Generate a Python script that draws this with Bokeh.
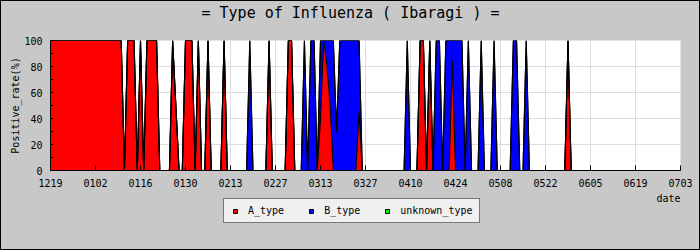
from bokeh.plotting import figure
from bokeh.layouts import column
from bokeh.models import (ColumnDataSource, Range1d, FixedTicker, SingleIntervalTicker,
                          Legend, LegendItem, Label)
from bokeh.embed import file_html
from bokeh.resources import INLINE

# x-axis tick labels (every 14 days, 1219 .. 0703)
tick_labels = ["1219", "0102", "0116", "0130", "0213", "0227", "0313", "0327",
               "0410", "0424", "0508", "0522", "0605", "0619", "0703"]

# daily positive rate (%) by type, day 0 = 1219
A_type = [
    100, 100, 100, 100, 100, 100, 100, 100, 100, 100, 100, 100, 100, 100,
    100, 100, 100, 100, 100, 100, 100, 100, 100, 0, 100, 100, 100, 0,
    100, 0, 100, 100, 100, 100, 0, 0, 0, 0, 100, 50, 0, 0,
    100, 100, 100, 0, 100, 0, 0, 100, 0, 0, 0, 0, 100, 0,
    0, 0, 0, 0, 0, 0, 0, 0, 0, 0, 0, 0, 100, 0,
    0, 0, 0, 0, 100, 100, 0, 0, 0, 0, 0, 0, 0, 0,
    40, 100, 80, 50, 0, 0, 0, 0, 0, 0, 0, 0, 45, 0,
    0, 0, 0, 0, 0, 0, 0, 0, 0, 0, 0, 0, 0, 0,
    0, 0, 0, 100, 100, 0, 100, 0, 0, 0, 0, 0, 0, 85,
    0, 0, 0, 0, 0, 0, 0, 0, 0, 0, 0, 0, 0, 0,
    0, 0, 0, 0, 0, 0, 0, 0, 0, 0, 0, 0, 0, 0,
    0, 0, 0, 0, 0, 0, 0, 100, 0, 0, 0, 0, 0, 0,
    0, 0, 0, 0, 0, 0, 0, 0, 0, 0, 0, 0, 0, 0,
    0, 0, 0, 0, 0, 0, 0, 0, 0, 0, 0, 0, 0, 0,
    0,
]
B_type = [
    0, 0, 0, 0, 0, 0, 0, 0, 0, 0, 0, 0, 0, 0,
    0, 0, 0, 0, 0, 0, 0, 0, 0, 0, 0, 0, 0, 0,
    0, 0, 0, 0, 0, 0, 0, 0, 0, 0, 0, 0, 0, 0,
    0, 0, 0, 0, 0, 0, 0, 0, 0, 0, 0, 0, 0, 0,
    0, 0, 0, 0, 0, 0, 100, 0, 0, 0, 0, 0, 0, 0,
    0, 0, 0, 0, 0, 0, 0, 0, 0, 100, 0, 100, 100, 0,
    60, 0, 20, 50, 100, 30, 100, 100, 100, 100, 100, 100, 55, 0,
    0, 0, 0, 0, 0, 0, 0, 0, 0, 0, 0, 0, 0, 100,
    0, 0, 0, 0, 0, 0, 0, 0, 100, 100, 0, 100, 100, 15,
    100, 100, 100, 0, 100, 0, 0, 0, 100, 0, 0, 0, 100, 0,
    0, 0, 0, 0, 100, 100, 0, 0, 100, 0, 0, 0, 0, 0,
    0, 0, 0, 0, 0, 0, 0, 0, 0, 0, 0, 0, 0, 0,
    0, 0, 0, 0, 0, 0, 0, 0, 0, 0, 0, 0, 0, 0,
    0, 0, 0, 0, 0, 0, 0, 0, 0, 0, 0, 0, 0, 0,
    0,
]
unknown_type = [0] * len(A_type)
days = list(range(len(A_type)))

title_text = "= Type of Influenza ( Ibaragi ) ="
FONT = "DejaVu Sans Mono"
BG = "#c8c8c8"
colors = ["#ff0000", "#0000ff", "#00ff00"]
names = ["A_type", "B_type", "unknown_type"]

src = ColumnDataSource(dict(x=days, A=A_type, B=B_type, U=unknown_type))

W = 698  # inside a 1px black page border

# ---------------- title strip ----------------
t = figure(width=W, height=33, output_backend="svg", toolbar_location=None,
           x_range=Range1d(49, 679), y_range=Range1d(0, 33),
           x_axis_location=None, y_axis_location=None, min_border=0,
           background_fill_color=None, border_fill_color=None, outline_line_color=None)
t.grid.grid_line_color = None
t.add_layout(Label(x=349, y=21.5, text=title_text, text_align="center",
                   text_baseline="middle", text_font=FONT, text_font_size="15px",
                   text_color="black"))

# ---------------- main chart ----------------
p = figure(width=W, height=156, output_backend="svg", toolbar_location=None,
           x_range=Range1d(0, days[-1]), y_range=Range1d(0, 100),
           min_border_left=49, min_border_right=19, min_border_top=6, min_border_bottom=20,
           background_fill_color="white", border_fill_color=None,
           outline_line_color=None)

p.varea_stack(["A", "B", "U"], x="x", color=colors, source=src)
p.vline_stack(["A", "B", "U"], x="x", color="black", line_width=1.1, source=src)

p.xaxis.ticker = FixedTicker(ticks=[14 * i for i in range(len(tick_labels))])
p.xaxis.major_label_overrides = {14 * i: s for i, s in enumerate(tick_labels)}
p.xaxis.major_tick_in = 5
p.xaxis.major_tick_out = 0
p.xaxis.major_label_standoff = 8

p.yaxis.ticker = SingleIntervalTicker(interval=20, num_minor_ticks=2)
p.yaxis.major_tick_in = 0
p.yaxis.major_tick_out = 0
p.yaxis.minor_tick_in = 3
p.yaxis.minor_tick_out = 0
p.yaxis.major_label_standoff = 8
p.yaxis.axis_label = "Positive_rate(%)"
p.yaxis.axis_label_standoff = 0

for ax in (p.xaxis[0], p.yaxis[0]):
    ax.axis_line_color = "black"
    ax.major_tick_line_color = "black"
    ax.major_label_text_font = FONT
    ax.major_label_text_font_size = "10px"
    ax.major_label_text_color = "black"
    ax.axis_label_text_font = FONT
    ax.axis_label_text_font_size = "10px"
    ax.axis_label_text_font_style = "normal"
    ax.axis_label_text_color = "black"
p.xaxis.minor_tick_line_color = None
p.yaxis.minor_tick_line_color = "black"

p.xgrid.grid_line_color = "#dcdcdc"
p.ygrid.grid_line_color = "#dcdcdc"

# ---------------- lower strip: axis title + legend ----------------
p2 = figure(width=W, height=59, output_backend="svg", toolbar_location=None,
            x_range=Range1d(49, 679), y_range=Range1d(0, 59),
            x_axis_location=None, y_axis_location=None, min_border=0,
            background_fill_color=None, border_fill_color=None, outline_line_color=None)
p2.grid.grid_line_color = None

p2.add_layout(Label(x=679, y=57, text="date", text_align="right", text_baseline="top",
                    text_font=FONT, text_font_size="10px", text_color="black"))

items = []
for n, c in zip(names, colors):
    r = p2.scatter(x=[-100], y=[-100], marker="square", size=10,
                   fill_color=c, line_color="black")
    items.append(LegendItem(label=n, renderers=[r]))
legend = Legend(items=items, orientation="horizontal", location=(173, 26),
                glyph_width=10, glyph_height=10, label_standoff=8, spacing=22,
                padding=6, label_height=10, margin=0,
                label_text_font=FONT, label_text_font_size="10px",
                label_text_color="black",
                border_line_color="black", background_fill_color="#f0f0f0",
                background_fill_alpha=1)
p2.add_layout(legend)

layout = column(t, p, p2, spacing=0,
                styles={"background-color": BG, "border": "1px solid black"})
open("out.html", "w").write(file_html(layout, INLINE))
